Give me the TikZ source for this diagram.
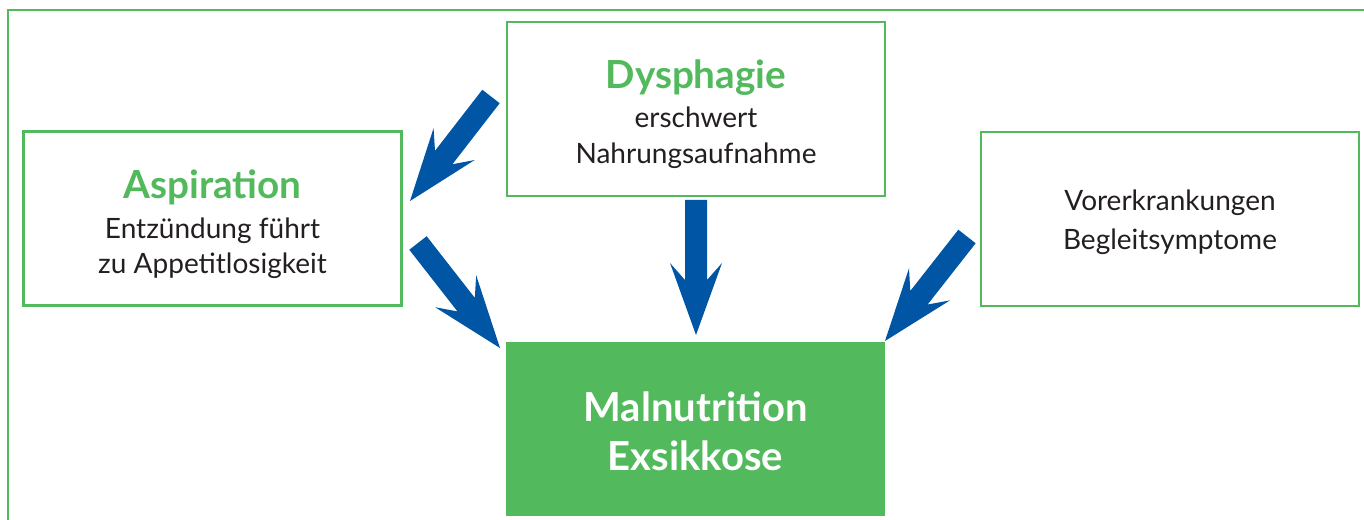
\documentclass[tikz,border=0pt]{standalone}
\usepackage{fontspec}
\setmainfont{Lato}
\usetikzlibrary{calc}
\definecolor{mygreen}{HTML}{52BA5C}
\definecolor{myblue}{HTML}{0055A5}
\definecolor{mytext}{HTML}{231F20}
\tikzset{
  box/.style={draw=mygreen, line width=2pt, fill=white, minimum width=283.5pt, minimum height=130.5pt, inner sep=0pt},
  boxtext/.style={align=center, text=mytext, font=\fontsize{21}{26.5}\selectfont, inner sep=0pt},
  mainbox/.style={fill=mygreen, minimum width=284pt, minimum height=130.5pt, inner sep=0pt},
  maintext/.style={align=center, text=white, font=\fontsize{30}{37}\selectfont\bfseries, inner sep=0pt},
  fatarrow/.style={fill=myblue},
  frame/.style={draw=mygreen, line width=1.5pt}
}
\newcommand{\titletext}[1]{\textcolor{mygreen}{\fontsize{29}{30}\selectfont\bfseries #1}}
\newcommand{\fatarr}[2]{%
  \coordinate (#1-j) at ($(#2)!41.25pt!(#1)$);
  \coordinate (#1-b) at ($(#2)!54pt!(#1)$);
  \fill[fatarrow] ($(#1)!8.25pt!90:(#2)$) -- ($(#1-j)!8.25pt!90:(#2)$) -- ($(#1-b)!19.5pt!90:(#2)$) -- (#2)
    -- ($(#1-b)!19.5pt!-90:(#2)$) -- ($(#1-j)!8.25pt!-90:(#2)$) -- ($(#1)!8.25pt!-90:(#2)$) -- cycle;
}
\begin{document}
\begin{tikzpicture}[x=0.75pt, y=-0.75pt]
\useasboundingbox (0,0) rectangle (1364,520);
\draw[frame] (8,521) -- (8,10) -- (1365,10);

\node[box] (dys) at (696,109) {};
\node[boxtext] (dys-t) at ($(dys.center)+(0,5)$) {\titletext{Dysphagie}\\[3pt] erschwert\\ Nahrungsaufnahme};
\node[box] (asp) at (212.5,218.5) {};
\node[boxtext] (asp-t) at ($(asp.center)+(0,6)$) {\titletext{Aspiration}\\[3pt] Entzündung führt\\ zu Appetitlosigkeit};
\node[box] (vor) at (1170,219) {};
\node[boxtext] (vor-t) at ($(vor.center)+(0,3)$) {Vorerkrankungen\\[3pt] Begleitsymptome};
\node[mainbox] (mal) at (695.5,429) {};
\node[maintext] (mal-t) at ($(mal.center)+(0,2)$) {Malnutrition\\ Exsikkose};

\coordinate (t1) at (491,96.5);  \coordinate (h1) at (410,201);
\coordinate (t2) at (418,243);   \coordinate (h2) at (500,348);
\coordinate (t3) at (696,200);   \coordinate (h3) at (696,335);
\coordinate (t4) at (967,236.5); \coordinate (h4) at (885,341);
\fatarr{t1}{h1}
\fatarr{t2}{h2}
\fatarr{t3}{h3}
\fatarr{t4}{h4}
\end{tikzpicture}
\end{document}
